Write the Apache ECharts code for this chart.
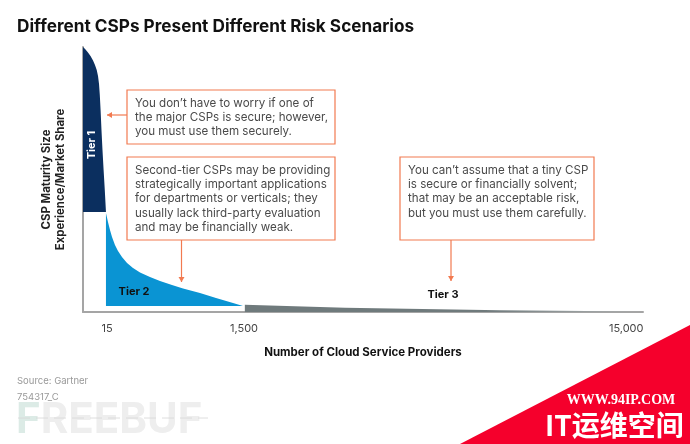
<!DOCTYPE html>
<html><head><meta charset="utf-8">
<style>html,body{margin:0;padding:0;background:#fff}#c{width:690px;height:444px}</style>
<script src="https://cdn.jsdelivr.net/npm/echarts@6/dist/echarts.min.js"></script>
</head><body><div id="c"></div>
<script>
const titleText = "Different CSPs Present Different Risk Scenarios";
const tickPositions = [4.3, 28.75, 97];
const tickLabels = ["15", "1,500", "15,000"];
const xAxisTitle = "Number of Cloud Service Providers";
const yAxisTitle = "CSP Maturity Size\nExperience/Market Share";
const tier1 = [[0,100],[0.45,99.1],[0.89,97.9],[1.34,96.6],[1.79,94.9],[2.14,93.2],[2.45,91.3],[2.68,89.1],[2.86,86],[3,81.9],[3.14,76.2],[3.3,68.7],[3.48,61.1],[3.68,53.6],[3.89,46],[4.1,37.7]];
const tier2 = [[4.1,37.4],[4.46,34],[4.82,30.9],[5.18,28.3],[5.71,25.3],[6.25,23],[6.96,20.8],[7.86,18.5],[8.93,16.6],[10.18,14.9],[11.96,13.2],[13.75,11.7],[15.89,10.2],[17.86,8.9],[20.89,7.2],[23.75,5.3],[26.79,3.4],[28.57,2.3]];
const tier3 = [[28.9,2.7],[46.8,1.6],[74.5,0.7],[100,0.2]];
const tier2Floor = 2.3;
const note1 = "You don\u2019t have to worry if one of\nthe major CSPs is secure; however,\nyou must use them securely.";
const note2 = "Second-tier CSPs may be providing\nstrategically important applications\nfor departments or verticals; they\nusually lack third-party evaluation\nand may be financially weak.";
const note3 = "You can\u2019t assume that a tiny CSP\nis secure or financially solvent;\nthat may be an acceptable risk,\nbut you must use them carefully.";

const FONT = 'Inter';
const ORANGE = '#F27A50';
function box(x, y, w, h) {
  return {type:'rect', z:5, shape:{x,y,width:w,height:h}, style:{fill:'#fff', stroke:ORANGE, lineWidth:1.2}};
}
function note(t, x, y) {
  return {type:'text', z:6, x, y, style:{text:t, fill:'#4a4a4a', font:'11.6px '+FONT, lineHeight:14.4, textVerticalAlign:'top'}};
}
function arrow(x1,y1,x2,y2) {
  const dx = Math.sign(x2-x1), dy = Math.sign(y2-y1);
  return [
    {type:'line', z:5, shape:{x1,y1,x2,y2}, style:{stroke:ORANGE, lineWidth:1.2}},
    {type:'polygon', z:5, shape:{points:[[x2,y2],[x2-dx*5-dy*3,y2-dy*5-dx*3],[x2-dx*5+dy*3,y2-dy*5+dx*3]]}, style:{fill:ORANGE}}
  ];
}
function label(t,x,y,fill,rot) {
  return {type:'text', z:6, x, y, rotation:rot||0, style:{text:t, fill, font:'bold 11px '+FONT, textAlign:'center', textVerticalAlign:'middle'}};
}
function areaSeries(data, color, origin) {
  return {type:'line', data, symbol:'none', smooth:false, lineStyle:{width:0}, areaStyle:{color, opacity:1, origin}, z:2, silent:true};
}
const chart = echarts.init(document.getElementById('c'), null, {renderer:'canvas'});
chart.setOption({
  animation:false,
  backgroundColor:'#fff',
  title:{text:titleText, left:12, top:13, textStyle:{fontFamily:FONT, fontWeight:'bold', fontSize:17.2, color:'#111'}},
  grid:{left:83, right:47, top:47, bottom:132},
  xAxis:{type:'value', min:0, max:100,
    splitLine:{show:false},
    axisLine:{show:true, onZero:false, lineStyle:{color:'#a5a5a5', width:2}},
    axisTick:{show:false},
    axisLabel:{customValues:tickPositions, formatter:(v)=>tickLabels[tickPositions.indexOf(v)], color:'#444', fontFamily:FONT, fontSize:11, margin:11},
    name:xAxisTitle, nameLocation:'middle', nameGap:35,
    nameTextStyle:{fontFamily:FONT, fontWeight:'bold', fontSize:11.5, color:'#111'}
  },
  yAxis:{type:'value', min:0, max:100,
    splitLine:{show:false},
    axisLine:{show:true, lineStyle:{color:'#a5a5a5', width:2}},
    axisTick:{show:false}, axisLabel:{show:false},
    name:yAxisTitle, nameLocation:'middle', nameGap:15, nameRotate:90,
    nameTextStyle:{fontFamily:FONT, fontWeight:'bold', fontSize:11.4, lineHeight:14, color:'#222'}
  },
  series:[
    areaSeries(tier1, '#0B2F5F', 37.7),
    areaSeries(tier2, '#0A94D3', tier2Floor),
    areaSeries(tier3, {type:'linear',x:0,y:0,x2:1,y2:0,colorStops:[{offset:0,color:'#6f7a7c'},{offset:0.6,color:'#6f7a7c'},{offset:1,color:'#a9b0b0'}]}, 0)
  ],
  graphic:[
    {type:'group', silent:true, z:10, children:[
      box(127,90,208,54), note(note1,135,96),
      box(127,157,208,83), note(note2,135,163),
      box(400,157,194,83), note(note3,408,163),
      ...arrow(127,115,107,115),
      ...arrow(181.5,240,181.5,282),
      ...arrow(451,240,451,281),
      label('Tier 1',92,145,'#fff',Math.PI/2),
      label('Tier 2',134,292,'#111'),
      label('Tier 3',443,295,'#111'),
      {type:'text', x:17, y:381, style:{text:'Source: Gartner', fill:'#999', font:'9.5px '+FONT, textVerticalAlign:'middle'}},
      {type:'text', x:17, y:397, style:{text:'754317_C', fill:'#999', font:'9.5px '+FONT, textVerticalAlign:'middle'}},
      {type:'text', x:16, y:420, style:{text:'{a|F}{b|REEBUF}', font:'bold 42px '+FONT, textVerticalAlign:'middle',
        rich:{a:{fill:'#dcebe6', font:'bold 42px '+FONT}, b:{fill:'#eeeeee', font:'bold 42px '+FONT}}}},
      {type:'line', shape:{x1:18,y1:418,x2:208,y2:418}, style:{stroke:'#d5d5d5', lineWidth:0.8, lineDash:[12,6]}},
      {type:'polygon', z:3, shape:{points:[[690,325],[690,444],[460,444]]}, style:{fill:'#F5002C'}},
      {type:'text', z:4, x:621, y:400, style:{text:'WWW.94IP.COM', fill:'#fff', font:'bold 14px "Liberation Serif"', textAlign:'center', textVerticalAlign:'middle'}},
      {type:'text', z:4, x:545, y:425, style:{text:'IT\u8fd0\u7ef4\u7a7a\u95f4', fill:'#fff', font:'bold 28px "Noto Sans CJK SC"', textVerticalAlign:'middle'}}
    ]}
  ]
});
</script></body></html>
